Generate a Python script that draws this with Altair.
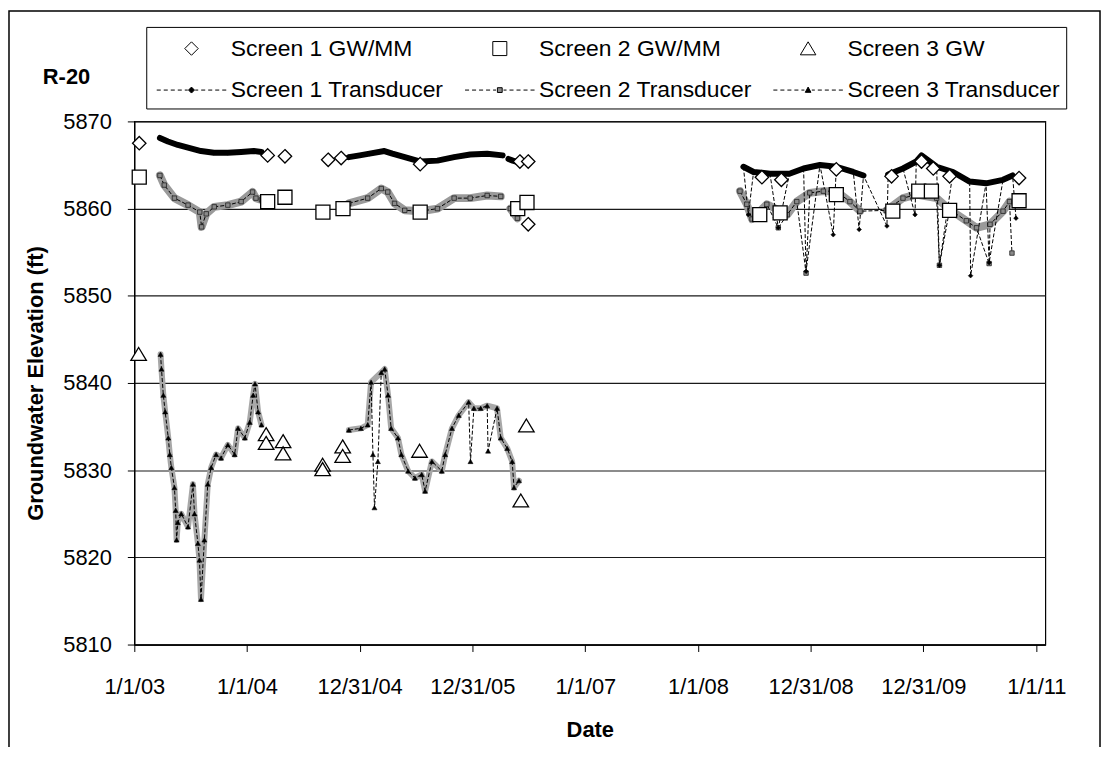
import altair as alt
import pandas as pd

FONT = "Liberation Sans"

# legend order (legend fills column by column: two rows per column)
SERIES = ["Screen 1 GW/MM", "Screen 1 Transducer", "Screen 2 GW/MM",
          "Screen 2 Transducer", "Screen 3 GW", "Screen 3 Transducer"]
S1G, S1T, S2G, S2T, S3G, S3T = SERIES

# ---- manual measurements (GW / MM) ----
S1_GW_DATE = ["2003-01-17", "2004-03-08", "2004-05-03", "2004-09-20", "2004-11-01",
              "2005-07-15", "2006-06-03", "2006-06-30", "2006-06-30",
              "2008-07-26", "2008-09-27", "2009-03-24", "2009-09-19", "2009-12-25",
              "2010-02-01", "2010-03-26", "2010-11-06"]
S1_GW_VAL = [5867.5, 5866.1, 5866.0, 5865.6, 5865.8,
             5865.1, 5865.4, 5865.4, 5858.2,
             5863.6, 5863.3, 5864.5, 5863.7, 5865.4,
             5864.6, 5863.7, 5863.5]

S2_GW_DATE = ["2003-01-17", "2004-03-08", "2004-05-03", "2004-09-03", "2004-11-07",
              "2005-07-15", "2006-05-27", "2006-06-26",
              "2008-07-19", "2008-09-23", "2009-03-24", "2009-09-23", "2009-12-16",
              "2010-01-26", "2010-03-26", "2010-11-06"]
S2_GW_VAL = [5863.6, 5860.8, 5861.3, 5859.6, 5860.0,
             5859.6, 5860.0, 5860.7,
             5859.3, 5859.5, 5861.6, 5859.7, 5862.0,
             5862.0, 5859.8, 5860.9]

S3_GW_DATE = ["2003-01-15", "2004-03-03", "2004-03-03", "2004-04-27", "2004-04-27",
              "2004-09-02", "2004-09-02", "2004-11-06", "2004-11-06",
              "2005-07-13", "2006-06-06", "2006-06-24"]
S3_GW_VAL = [5843.3, 5834.1, 5833.1, 5833.3, 5831.9,
             5830.6, 5830.1, 5832.7, 5831.6,
             5832.2, 5826.5, 5835.1]

# ---- transducer records (BAND = continuous run id, 0 = isolated spike; LINE = connected run id) ----
S1_T_DATE = ["2003-03-25", "2003-04-20", "2003-05-22", "2003-06-24", "2003-08-05", "2003-09-16",
             "2003-10-31", "2003-12-13", "2004-01-23", "2004-02-17",
             "2004-11-26", "2004-12-31", "2005-02-01", "2005-03-21", "2005-04-16", "2005-05-26",
             "2005-07-16", "2005-09-09", "2005-11-02", "2005-12-24", "2006-02-17", "2006-04-08",
             "2006-04-27", "2006-05-11", "2006-05-30",
             "2008-05-27", "2008-06-12", "2008-06-29", "2008-08-21", "2008-09-17", "2008-10-23",
             "2008-12-08", "2008-12-16", "2009-01-30", "2009-03-14", "2009-03-24", "2009-05-18",
             "2009-06-06", "2009-06-20", "2009-09-04", "2009-09-08", "2009-10-26", "2009-12-04",
             "2009-12-08", "2009-12-25", "2010-02-12", "2010-02-21", "2010-04-06", "2010-05-30",
             "2010-06-02", "2010-07-22", "2010-08-01", "2010-09-15", "2010-10-16", "2010-10-27"]
S1_T_VAL = [5868.1, 5867.7, 5867.3, 5867.0, 5866.6, 5866.4,
            5866.4, 5866.5, 5866.6, 5866.5,
            5865.9, 5866.1, 5866.3, 5866.6, 5866.3, 5865.9,
            5865.4, 5865.5, 5865.9, 5866.2, 5866.3, 5866.1,
            5865.7, 5865.5, 5865.3,
            5864.8, 5859.3, 5864.2, 5864.0, 5857.8, 5864.0,
            5864.6, 5852.8, 5865.0, 5857.0, 5864.8, 5864.2,
            5857.6, 5863.8, 5858.0, 5863.9, 5864.6, 5859.3,
            5865.4, 5866.1, 5864.8, 5853.5, 5864.2, 5863.1,
            5852.3, 5862.9, 5853.8, 5863.3, 5863.8, 5858.9]
S1_T_BAND = [1] * 10 + [2] * 12 + [3] * 3 + \
            [4, 0, 4, 4, 0, 4, 4, 0, 4, 0, 4, 4, 0, 4, 0, 5, 5, 0, 5, 5, 5, 0, 5, 5, 0, 5, 0, 5, 5, 0]
S1_T_LINE = [1] * 10 + [2] * 12 + [3] * 3 + [4] * 30

S2_T_DATE = ["2003-03-25", "2003-04-08", "2003-05-11", "2003-06-24", "2003-08-01", "2003-08-07",
             "2003-08-22", "2003-09-17", "2003-10-31", "2003-12-13", "2004-01-19", "2004-01-30",
             "2004-02-17",
             "2004-11-26", "2005-01-26", "2005-03-11", "2005-04-01", "2005-04-23", "2005-05-26",
             "2005-07-16", "2005-09-09", "2005-11-02", "2005-12-24", "2006-02-17", "2006-04-02",
             "2006-05-03", "2006-05-26",
             "2008-05-16", "2008-06-07", "2008-06-24", "2008-08-11", "2008-09-17", "2008-10-16",
             "2008-11-16", "2008-12-16", "2008-12-28", "2009-02-10", "2009-03-24", "2009-05-07",
             "2009-06-09", "2009-09-02", "2009-10-26", "2009-12-08", "2010-02-12", "2010-02-21",
             "2010-03-26", "2010-05-19", "2010-06-21", "2010-08-01", "2010-08-04", "2010-09-15",
             "2010-10-06", "2010-10-14"]
S2_T_VAL = [5863.8, 5862.7, 5861.2, 5860.4, 5859.6, 5857.9,
            5859.4, 5860.2, 5860.4, 5860.8, 5861.9, 5861.2,
            5861.0,
            5860.6, 5861.2, 5862.3, 5861.9, 5860.6, 5859.8,
            5859.7, 5860.0, 5861.2, 5861.2, 5861.5, 5861.4,
            5860.0, 5858.9,
            5862.0, 5860.5, 5858.8, 5860.5, 5857.8, 5859.3,
            5860.8, 5852.6, 5861.8, 5862.0, 5862.0, 5860.8,
            5859.7, 5859.8, 5861.2, 5861.6, 5861.2, 5853.5,
            5859.9, 5858.6, 5857.8, 5853.7, 5858.2, 5859.7,
            5860.8, 5854.9]
S2_T_BAND = [1] * 13 + [2] * 12 + [3] * 2 + \
            [4, 4, 4, 4, 0, 4, 4, 0, 4, 4, 4, 4, 4, 5, 5, 5, 5, 0, 5, 5, 5, 0, 5, 5, 5, 0]
S2_T_LINE = [1] * 13 + [2] * 12 + [3] * 2 + [4] * 26

S3_T_DATE = ["2003-03-27", "2003-03-30", "2003-04-05", "2003-04-11", "2003-04-21", "2003-04-26",
             "2003-05-01", "2003-05-11", "2003-05-15", "2003-05-18", "2003-05-22", "2003-06-02",
             "2003-06-24", "2003-07-10", "2003-07-15", "2003-07-26", "2003-07-31", "2003-08-05",
             "2003-08-16", "2003-08-27", "2003-09-07", "2003-09-23", "2003-10-09", "2003-10-31",
             "2003-11-22", "2003-12-03", "2003-12-25", "2004-01-10", "2004-01-21", "2004-01-27",
             "2004-02-06", "2004-02-17",
             "2004-11-26", "2005-01-04", "2005-01-26", "2005-02-06", "2005-02-12", "2005-02-17",
             "2005-02-28", "2005-03-11", "2005-03-22", "2005-04-02", "2005-04-12", "2005-05-04",
             "2005-05-15", "2005-06-06", "2005-06-28", "2005-07-20", "2005-07-31", "2005-08-22",
             "2005-09-23", "2005-10-04", "2005-10-26", "2005-11-17", "2005-12-19", "2005-12-25",
             "2006-01-05", "2006-01-27", "2006-02-17", "2006-02-20", "2006-03-21", "2006-04-02",
             "2006-04-23", "2006-05-09", "2006-05-15", "2006-05-31"]
S3_T_VAL = [5843.3, 5841.6, 5838.6, 5836.7, 5833.7, 5831.8,
            5830.3, 5828.0, 5825.4, 5822.0, 5824.0, 5825.0,
            5823.5, 5828.4, 5825.0, 5821.6, 5819.7, 5815.2,
            5822.0, 5828.4, 5830.3, 5831.8, 5831.4, 5832.9,
            5831.8, 5834.8, 5833.7, 5835.5, 5838.6, 5839.9,
            5836.7, 5835.2,
            5834.6, 5834.8, 5835.2, 5840.1, 5831.8, 5825.7,
            5831.0, 5841.2, 5841.6, 5838.6, 5834.8, 5833.7,
            5831.8, 5829.9, 5829.1, 5829.5, 5827.6, 5831.0,
            5829.9, 5831.8, 5834.8, 5836.3, 5837.8, 5831.0,
            5837.1, 5837.1, 5837.4, 5832.2, 5837.1, 5833.7,
            5832.5, 5831.0, 5828.0, 5828.8]
S3_T_BAND = [1] * 32 + [2, 2, 2, 2, 0, 0, 0, 2, 2, 2, 2, 2, 2, 2, 2, 2, 2, 2,
                        2, 2, 2, 2, 2, 0, 2, 2, 2, 0, 2, 2, 2, 2, 2, 2]
S3_T_LINE = [1] * 32 + [2] * 34

# ---- tables built from the arrays ----
gw_rows = []
for name, dates, vals in [(S1G, S1_GW_DATE, S1_GW_VAL),
                          (S2G, S2_GW_DATE, S2_GW_VAL),
                          (S3G, S3_GW_DATE, S3_GW_VAL)]:
    gw_rows += [{"series": name, "date": d, "value": v} for d, v in zip(dates, vals)]
gw = pd.DataFrame(gw_rows)

t_rows = []
for name, dates, vals, band, line in [(S1T, S1_T_DATE, S1_T_VAL, S1_T_BAND, S1_T_LINE),
                                      (S2T, S2_T_DATE, S2_T_VAL, S2_T_BAND, S2_T_LINE),
                                      (S3T, S3_T_DATE, S3_T_VAL, S3_T_BAND, S3_T_LINE)]:
    t_rows += [{"series": name, "date": d, "value": v, "band": b, "line": l}
               for d, v, b, l in zip(dates, vals, band, line)]
td = pd.DataFrame(t_rows)

# ---- legend glyphs (custom symbol paths, unit = 15 px) ----
def dash_path(marker):
    segs = [(-2.33, -2.06), (-1.86, -1.59), (-1.39, -1.12), (-0.92, -0.65), (-0.45, -0.25),
            (0.25, 0.45), (0.65, 0.92), (1.12, 1.39), (1.59, 1.86), (2.06, 2.33)]
    return "".join(f"M{a},0L{b},0" for a, b in segs) + marker

GLYPH = {
    S1G: "M0,-0.45L0.45,0L0,0.45L-0.45,0Z",
    S2G: "M-0.47,-0.47L0.47,-0.47L0.47,0.47L-0.47,0.47Z",
    S3G: "M0,-0.45L0.52,0.42L-0.52,0.42Z",
    S1T: dash_path("M0,-0.2L0.2,0L0,0.2L-0.2,0Z"),
    S2T: dash_path("M-0.16,-0.16L0.16,-0.16L0.16,0.16L-0.16,0.16Z"),
    S3T: dash_path("M0,-0.2L0.19,0.15L-0.19,0.15Z"),
}
FILL = {S1G: "white", S2G: "white", S3G: "white", S1T: "black", S2T: "#8a8a8a", S3T: "black"}

TICK_DATES = [(2003, 1, 1), (2004, 1, 1), (2004, 12, 31), (2005, 12, 31), (2007, 1, 1),
              (2008, 1, 1), (2008, 12, 31), (2009, 12, 31), (2011, 1, 1)]

x_enc = alt.X(
    "date:T", title="Date",
    scale=alt.Scale(type="utc",
                    domain=[alt.DateTime(year=2003, month=1, date=1, utc=True),
                            alt.DateTime(year=2011, month=1, date=30, utc=True)]),
    axis=alt.Axis(values=[alt.DateTime(year=y, month=m, date=d, utc=True) for y, m, d in TICK_DATES],
                  labelExpr="utcFormat(datum.value, '%-m/%-d/%y')",
                  grid=False, tickSize=7, labelPadding=25, titlePadding=22,
                  labelFlush=False, labelOverlap=False),
)
y_enc = alt.Y(
    "value:Q", title="Groundwater Elevation (ft)",
    scale=alt.Scale(domain=[5810, 5870], nice=False, zero=False),
    axis=alt.Axis(values=[5810, 5820, 5830, 5840, 5850, 5860, 5870], format="d",
                  grid=True, tickSize=7, labelPadding=16, titlePadding=15),
)

LEG = alt.Legend(
    title=None, orient="none", legendX=12, legendY=-95,
    columns=3, symbolSize=900, symbolStrokeWidth=1, symbolOffset=24,
    symbolStrokeColor="black", symbolOpacity=1, labelFont=FONT, labelFontSize=23,
    labelColor="black", labelOffset=24, labelLimit=400,
    columnPadding=17, rowPadding=14, padding=6,
    strokeColor="black", fillColor="white",
)

frame = alt.Chart(pd.DataFrame({"k": [0]})).mark_rect(
    fill="white", fillOpacity=0, stroke="black", strokeWidth=1.5
).encode(x=alt.value(-126), x2=alt.value(971), y=alt.value(-111), y2=alt.value(700))

tbase = alt.Chart(td)

band_s2 = tbase.mark_line(color="#9a9a9a", strokeWidth=8, strokeCap="round", strokeJoin="round").encode(
    x=x_enc, y=y_enc, detail="band:N").transform_filter(
    (alt.datum.series == S2T) & (alt.datum.band > 0))
band_s3 = tbase.mark_line(color="#a8a8a8", strokeWidth=6, strokeCap="round", strokeJoin="round").encode(
    x=x_enc, y=y_enc, detail="band:N").transform_filter(
    (alt.datum.series == S3T) & (alt.datum.band > 0))
band_s1 = tbase.mark_line(color="black", strokeWidth=6, strokeCap="round", strokeJoin="round").encode(
    x=x_enc, y=y_enc, detail="band:N").transform_filter(
    (alt.datum.series == S1T) & (alt.datum.band > 0))

thin = tbase.mark_line(color="black", strokeWidth=1, strokeDash=[4, 2]).encode(
    x=x_enc, y=y_enc, detail=["series:N", "line:N"])

mk_s1 = tbase.mark_point(shape="diamond", size=22, filled=True, fill="black", stroke="black",
                         strokeWidth=0.5, opacity=1).encode(x=x_enc, y=y_enc).transform_filter(
    alt.datum.series == S1T)
mk_s2 = tbase.mark_point(shape="square", size=20, filled=True, fill="#8a8a8a", stroke="#222",
                         strokeWidth=0.8, opacity=1).encode(x=x_enc, y=y_enc).transform_filter(
    alt.datum.series == S2T)
mk_s3 = tbase.mark_point(shape="triangle-up", size=26, filled=True, fill="black", stroke="black",
                         strokeWidth=0.5, opacity=1).encode(x=x_enc, y=y_enc).transform_filter(
    alt.datum.series == S3T)

gw_layer = alt.Chart(gw).mark_point(size=900, filled=True, strokeWidth=1.3, opacity=1).encode(
    x=x_enc, y=y_enc,
    shape=alt.Shape("series:N", scale=alt.Scale(domain=SERIES, range=[GLYPH[s] for s in SERIES]),
                    legend=LEG),
    fill=alt.Fill("series:N", scale=alt.Scale(domain=SERIES, range=[FILL[s] for s in SERIES]),
                  legend=LEG),
    stroke=alt.Stroke("series:N", scale=alt.Scale(domain=SERIES, range=["black"] * 6),
                      legend=LEG),
)

chart = alt.layer(
    frame, band_s2, band_s3, band_s1, thin, mk_s2, mk_s3, mk_s1, gw_layer
).properties(
    width=916, height=526,
    autosize=alt.AutoSizeParams(type="none"),
    padding={"left": 127, "top": 112, "right": 57, "bottom": 101},
    background="white",
    title=alt.TitleParams("R-20", anchor="start", frame="group", dx=-92, dy=83,
                          font=FONT, fontSize=22, fontWeight="bold", color="black"),
).configure_view(
    stroke="black", strokeWidth=1.2
).configure_axis(
    domainColor="black", tickColor="black", gridColor="#1a1a1a", gridWidth=1.2,
    labelColor="black", titleColor="black", labelFont=FONT, titleFont=FONT,
    labelFontSize=22, titleFontSize=22, titleFontWeight="bold", domainWidth=1.2
)

chart.save("out.html", embed_options={"renderer": "svg", "actions": False})
